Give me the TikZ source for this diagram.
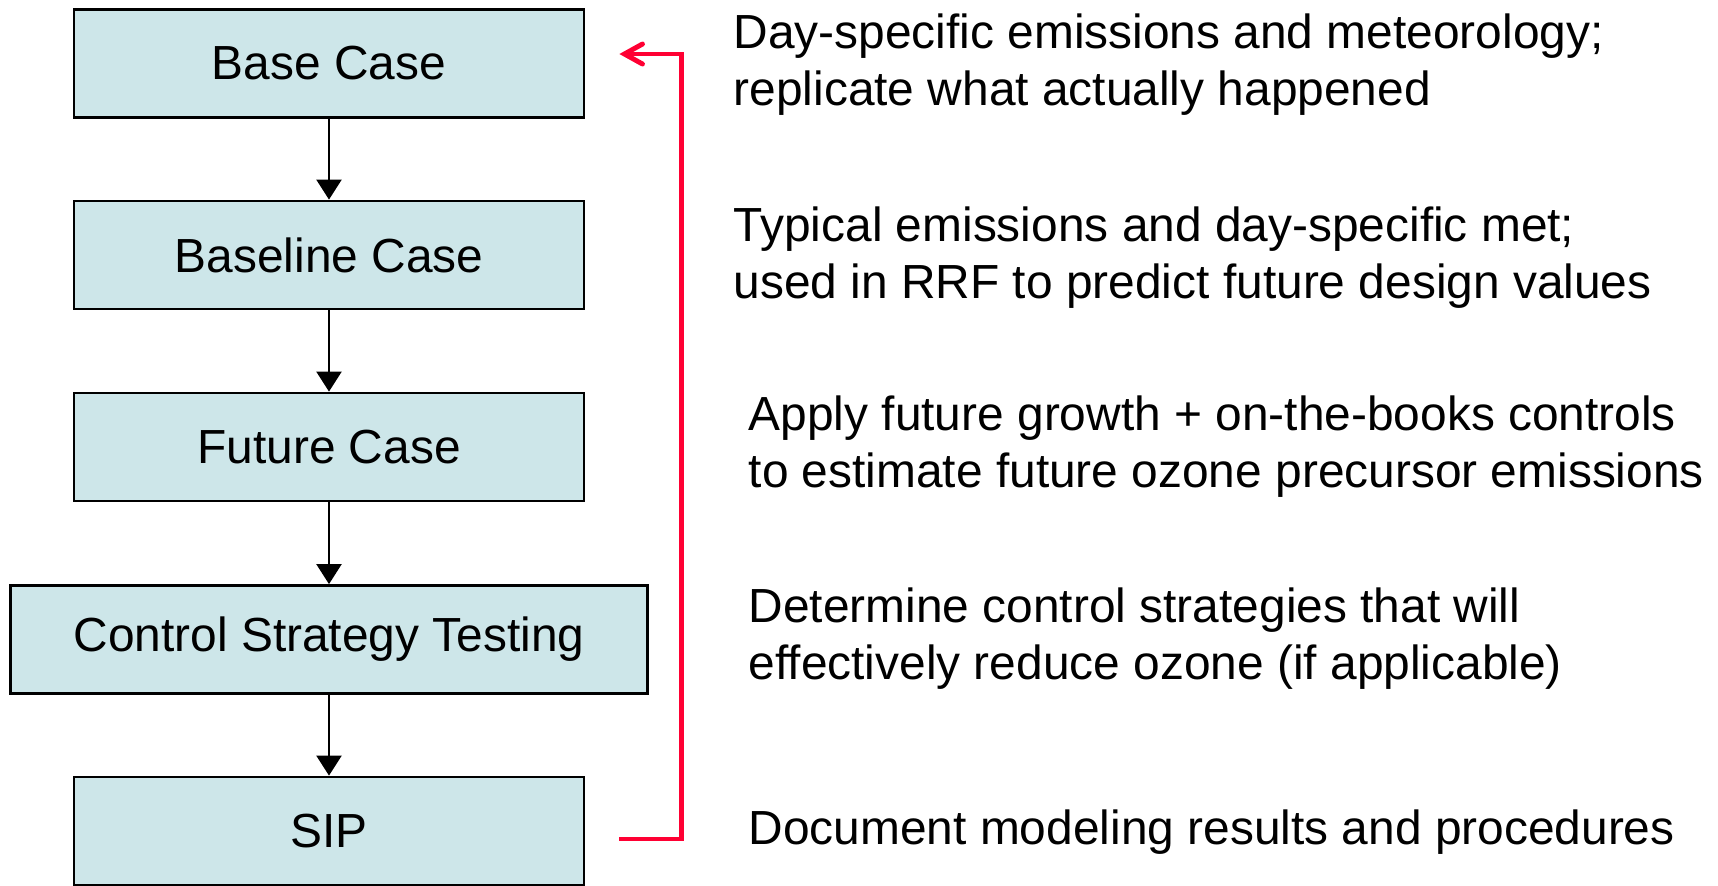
\documentclass[tikz,border=0pt]{standalone}
\usepackage{fontspec}
\setmainfont{Liberation Sans}
\usetikzlibrary{arrows.meta}
\definecolor{boxfill}{RGB}{205,230,233}
\definecolor{loopred}{RGB}{255,0,51}

\begin{document}
\begin{tikzpicture}[
  stage/.style={draw, line width=0.8pt, fill=boxfill, minimum width=5.10cm, minimum height=1.08cm, font=\fontsize{13.62}{16.2}\selectfont},
  note/.style={anchor=west, inner sep=0pt, align=left, font=\fontsize{13.62}{16.2}\selectfont},
  flow/.style={-{Triangle[length=0.2cm, width=0.25cm]}, line width=0.6pt},
  feedback/.style={-{Straight Barb[length=0.18cm, width=0.2cm, line cap=round]}, draw=loopred, line width=1.4pt}
]
\useasboundingbox (0,0) rectangle (17.18,-8.85);

% the modeling stages
\node[stage] (base) at (3.29, -0.635) {Base Case};
\node[stage] (baseline) at (3.29, -2.55) {Baseline Case};
\draw[flow] (base) -- (baseline);

\node[stage] (future) at (3.29, -4.47) {Future Case};
\draw[flow] (baseline) -- (future);

\node[stage, minimum width=6.37cm] (control) at (3.29, -6.395) {Control Strategy Testing};
\draw[flow] (future) -- (control);

\node[stage] (sip) at (3.29, -8.31) {SIP};
\draw[flow] (control) -- (sip);

% loop back from SIP to base case
\draw[feedback, shorten <=0.34cm, shorten >=0.34cm] ([yshift=-0.08cm]sip.east) -- ++(0.96,0) |- ([yshift=0.095cm]base.east);

% the notes on the right
\node[note] (note_base) at (7.33, -0.65) {Day-specific emissions and meteorology;\\replicate what actually happened};
\node[note] (note_baseline) at (7.33, -2.58) {Typical emissions and day-specific met;\\used in RRF to predict future design values};
\node[note] (note_future) at (7.48, -4.465) {Apply future growth + on-the-books controls\\to estimate future ozone precursor emissions};
\node[note] (note_control) at (7.48, -6.385) {Determine control strategies that will\\effectively reduce ozone (if applicable)};
\node[note] (note_sip) at (7.48, -8.32) {Document modeling results and procedures};

\end{tikzpicture}
\end{document}
